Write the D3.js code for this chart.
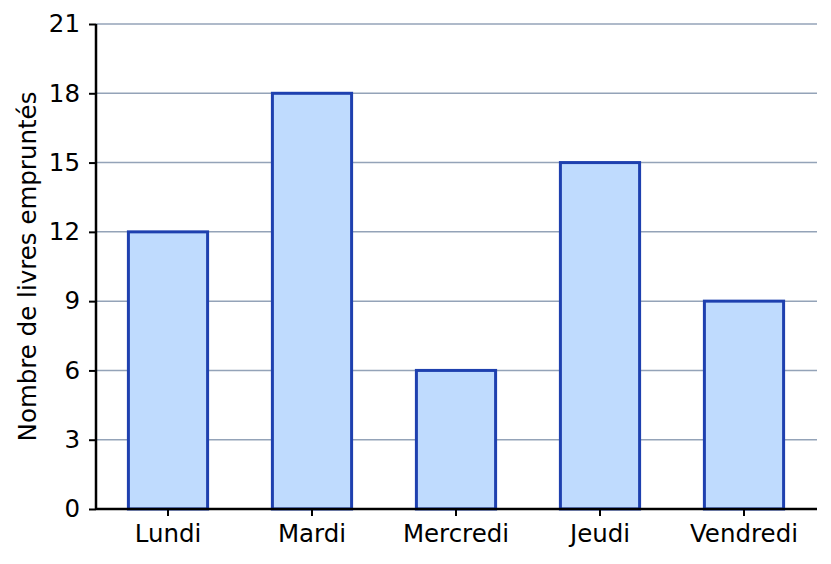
<!DOCTYPE html>
<html>
<head>
<meta charset="utf-8">
<script src="https://cdn.jsdelivr.net/npm/d3@7"></script>
<style>
  body { margin: 0; background: #fff; }
  text { font-family: "DejaVu Sans", sans-serif; }
</style>
</head>
<body>
<svg id="chart"></svg>
<script>
const W = 831;
const H = 564;
const MARGIN = { top: 24, right: 14, bottom: 55, left: 96 };
const FONT = '24.5px';

const days = ['Lundi', 'Mardi', 'Mercredi', 'Jeudi', 'Vendredi'];
const books = [12, 18, 6, 15, 9];
const yTicks = [0, 3, 6, 9, 12, 15, 18, 21];

const FILL = '#bfdbfe';
const STROKE = '#1e40af';
const GRID = '#94a3b8';

const svg = d3.select('#chart')
  .attr('width', W)
  .attr('height', H);

const x = d3.scaleBand()
  .domain(days)
  .range([MARGIN.left, W - MARGIN.right - 1])
  .paddingInner(0.45)
  .paddingOuter(0.225);

const y = d3.scaleLinear()
  .domain([0, 21])
  .range([H - MARGIN.bottom, MARGIN.top]);

// grid lines
svg.append('g')
  .selectAll('line')
  .data(yTicks.filter(d => d > 0))
  .enter()
  .append('line')
  .attr('x1', MARGIN.left)
  .attr('x2', W - MARGIN.right)
  .attr('y1', d => y(d))
  .attr('y2', d => y(d))
  .attr('stroke', GRID)
  .attr('stroke-width', 1.5);

// bars
svg.append('g')
  .selectAll('rect')
  .data(days.map((d, i) => ({ day: d, value: books[i] })))
  .enter()
  .append('rect')
  .attr('x', d => x(d.day))
  .attr('y', d => y(d.value))
  .attr('width', x.bandwidth())
  .attr('height', d => y(0) - y(d.value))
  .attr('fill', FILL)
  .attr('stroke', STROKE)
  .attr('stroke-width', 3);

// y axis
const yAxis = svg.append('g')
  .attr('transform', `translate(${MARGIN.left},0)`)
  .call(d3.axisLeft(y).tickValues(yTicks).tickSize(7).tickPadding(9));
yAxis.select('.domain').attr('stroke', '#000').attr('stroke-width', 2.5)
  .attr('d', `M0,${y(21)}V${y(0)}`);
yAxis.selectAll('.tick line').attr('stroke', '#000').attr('stroke-width', 2);
yAxis.selectAll('.tick text')
  .attr('fill', '#000')
  .style('font-size', FONT)
  .style('font-family', '"DejaVu Sans", sans-serif');

// x axis
const xAxis = svg.append('g')
  .attr('transform', `translate(0,${y(0)})`)
  .call(d3.axisBottom(x).tickSize(7).tickPadding(9));
xAxis.select('.domain').attr('stroke', '#000').attr('stroke-width', 2.5)
  .attr('d', `M${MARGIN.left},0H${W - MARGIN.right}`);
xAxis.selectAll('.tick line').attr('stroke', '#000').attr('stroke-width', 2);
xAxis.selectAll('.tick text')
  .attr('fill', '#000')
  .style('font-size', FONT)
  .style('font-family', '"DejaVu Sans", sans-serif');

// y label
svg.append('text')
  .attr('transform', `translate(36,${(y(0) + y(21)) / 2}) rotate(-90)`)
  .attr('text-anchor', 'middle')
  .style('font-size', FONT)
  .attr('fill', '#000')
  .text('Nombre de livres empruntés');
</script>
</body>
</html>
